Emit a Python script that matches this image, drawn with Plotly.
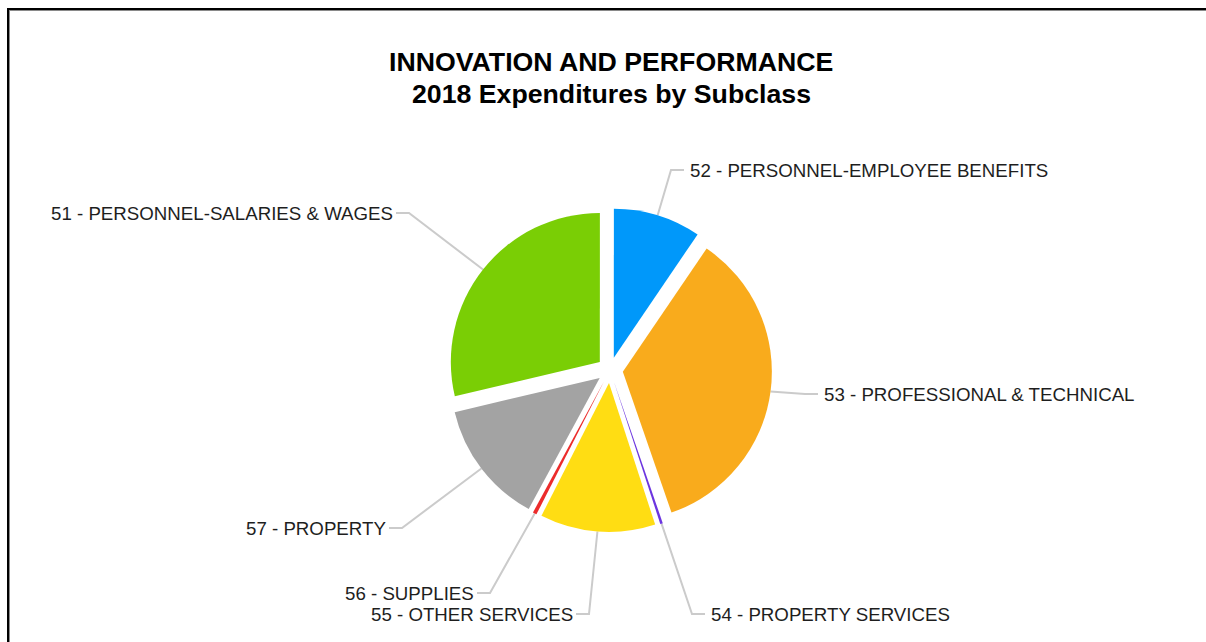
import math
import plotly.graph_objects as go

# ---- data -------------------------------------------------------------
subclasses = [
    "51 - PERSONNEL-SALARIES & WAGES",
    "52 - PERSONNEL-EMPLOYEE BENEFITS",
    "53 - PROFESSIONAL & TECHNICAL",
    "54 - PROPERTY SERVICES",
    "55 - OTHER SERVICES",
    "56 - SUPPLIES",
    "57 - PROPERTY",
]
share_pct = [28.7, 9.5, 35.2, 0.28, 12.5, 0.42, 13.4]

slice_colors = ["#7ACE05", "#0098FA", "#F9AB1C", "#6C35E0", "#FFDD13", "#EC2B2B", "#A3A3A3"]

title_lines = ["INNOVATION AND PERFORMANCE", "2018 Expenditures by Subclass"]

# ---- layout constants ---------------------------------------------------
W, H = 1206, 642
PIE_X = [0.3715, 0.6401]
PIE_Y = [0.1713, 0.6760]
PULL = 0.087
ROTATION = 256.7
FONT = "Arial, Liberation Sans, sans-serif"
LEADER_COLOR = "#CBCBCB"

# label anchor (pixel x, pixel y) and the side of the text the leader joins
label_anchor = [
    (393, 213, "right"),
    (690, 170, "left"),
    (824, 394, "left"),
    (711, 614, "left"),
    (573, 614, "right"),
    (474, 593, "right"),
    (386, 528, "right"),
]

# pie geometry as plotly lays it out (margins are zero, so paper == pixels)
cx = W * (PIE_X[0] + PIE_X[1]) / 2
cy = H * (1 - (PIE_Y[0] + PIE_Y[1]) / 2)
r = min(W * (PIE_X[1] - PIE_X[0]), H * (PIE_Y[1] - PIE_Y[0])) / (2 + 2 * PULL)
total = sum(share_pct)

fig = go.Figure()

fig.add_trace(go.Pie(
    labels=subclasses,
    values=share_pct,
    sort=False,
    direction="clockwise",
    rotation=ROTATION,
    pull=PULL,
    marker=dict(colors=slice_colors, line=dict(width=0)),
    textinfo="none",
    hoverinfo="label+percent",
    domain=dict(x=PIE_X, y=PIE_Y),
    showlegend=False,
))

# leader lines from each slice's outer arc midpoint to its label
lx, ly = [], []
annotations = []
cum = 0.0
for name, v, (ax, ay, side) in zip(subclasses, share_pct, label_anchor):
    theta = math.radians(ROTATION + 360.0 * (cum + v / 2) / total)
    cum += v
    rr = r * (1 + PULL)
    px = cx + rr * math.sin(theta)
    py = cy - rr * math.cos(theta)
    if side == "right":
        x_end, x_elbow = ax + 3, ax + 16
        xanchor = "right"
    else:
        x_end, x_elbow = ax - 6, ax - 19
        xanchor = "left"
    lx += [px, x_elbow, x_end, None]
    ly += [py, ay, ay, None]
    annotations.append(dict(
        x=ax, y=ay, xref="x", yref="y", text=name, showarrow=False,
        xanchor=xanchor, yanchor="middle",
        font=dict(family=FONT, size=18.7, color="#1E1E1E"),
        borderpad=0, borderwidth=0,
    ))

fig.add_trace(go.Scatter(
    x=lx, y=ly, mode="lines",
    line=dict(color=LEADER_COLOR, width=2),
    hoverinfo="skip", showlegend=False,
))

# two-line heading
for txt, y in zip(title_lines, [62, 94]):
    annotations.append(dict(
        x=611, y=y, xref="x", yref="y", text="<b>%s</b>" % txt, showarrow=False,
        xanchor="center", yanchor="middle",
        font=dict(family=FONT, size=26.7, color="#000000"),
    ))

# frame along the top and left edges
shapes = [
    dict(type="line", xref="x", yref="y", x0=7, x1=W, y0=9, y1=9,
         line=dict(color="#000000", width=2)),
    dict(type="line", xref="x", yref="y", x0=8, x1=8, y0=8, y1=H,
         line=dict(color="#000000", width=2)),
    dict(type="line", xref="x", yref="y", x0=9, x1=W, y0=10.5, y1=10.5,
         line=dict(color="#8A8A8A", width=1)),
    dict(type="line", xref="x", yref="y", x0=9.5, x1=9.5, y0=10, y1=H,
         line=dict(color="#8A8A8A", width=1)),
]

fig.update_layout(
    width=W, height=H,
    margin=dict(l=0, r=0, t=0, b=0),
    paper_bgcolor="#FFFFFF",
    plot_bgcolor="rgba(0,0,0,0)",
    xaxis=dict(range=[0, W], visible=False, fixedrange=True, domain=[0, 1]),
    yaxis=dict(range=[H, 0], visible=False, fixedrange=True, domain=[0, 1]),
    annotations=annotations,
    shapes=shapes,
    showlegend=False,
)

fig.write_html("out.html")
